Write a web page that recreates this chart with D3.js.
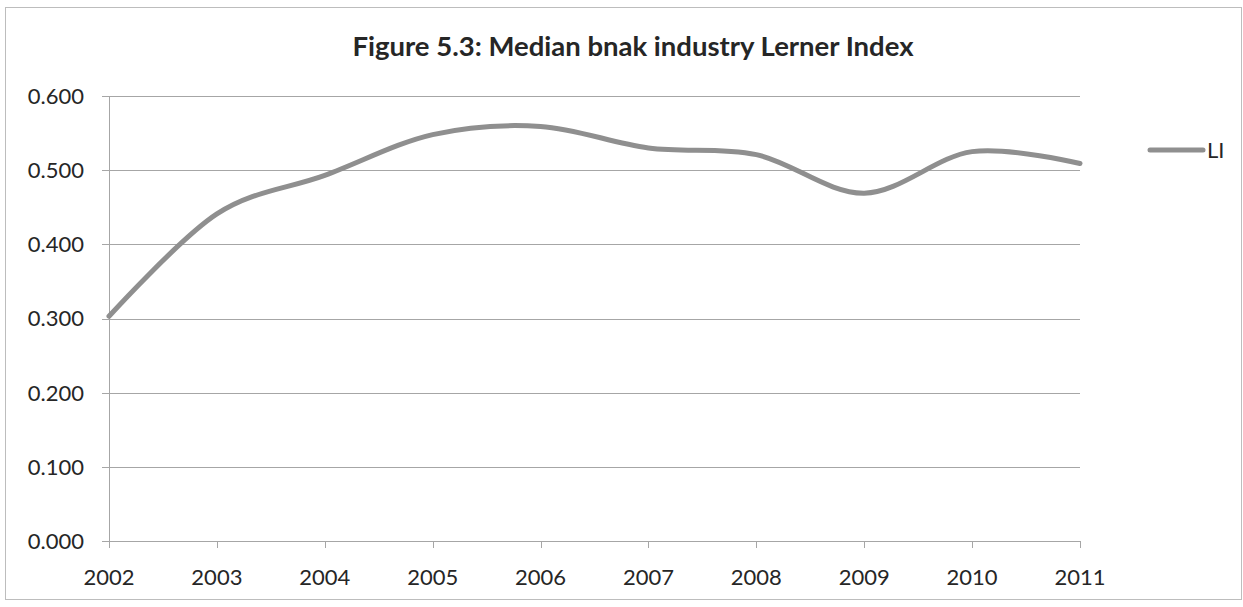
<!DOCTYPE html>
<html><head><meta charset="utf-8">
<script src="https://cdn.jsdelivr.net/npm/d3@7"></script>
<style>body{margin:0;background:#fff}svg{display:block}</style>
</head><body>
<script>
const years = ["2002","2003","2004","2005","2006","2007","2008","2009","2010","2011"];
const liValues = [0.303, 0.441, 0.493, 0.548, 0.559, 0.530, 0.521, 0.469, 0.525, 0.509];
const yTicks = [0, 0.1, 0.2, 0.3, 0.4, 0.5, 0.6];
const seriesName = "LI";
const title = "Figure 5.3: Median bnak industry Lerner Index";

const W = 1243, H = 607;
const svg = d3.select("body").append("svg").attr("width", W).attr("height", H);
const font = "Lato, 'Open Sans', sans-serif";

svg.append("rect").attr("x", 5.5).attr("y", 7.5).attr("width", 1236).attr("height", 592)
  .attr("fill", "#fff").attr("stroke", "#bdbdbd").attr("stroke-width", 1);

const x = d3.scalePoint().domain(years).range([109, 1080]);
const y = d3.scaleLinear().domain([0, 0.6]).range([541, 96]);

// gridlines
svg.append("g").selectAll("line").data(yTicks).join("line")
  .attr("x1", 102).attr("x2", 1080)
  .attr("y1", d => Math.round(y(d)) + 0.5).attr("y2", d => Math.round(y(d)) + 0.5)
  .attr("stroke", "#a6a6a6").attr("stroke-width", 1);

// y axis line
svg.append("line").attr("x1", 109.5).attr("x2", 109.5).attr("y1", y(0.6)).attr("y2", y(0))
  .attr("stroke", "#a6a6a6");

// y labels
svg.append("g").selectAll("text").data(yTicks).join("text")
  .attr("x", 84).attr("y", d => y(d)).attr("dy", "0.36em")
  .attr("text-anchor", "end").attr("font-family", font).attr("font-size", 22)
  .attr("fill", "#262626").text(d => d3.format(".3f")(d));

// x ticks
svg.append("g").selectAll("line").data(years).join("line")
  .attr("x1", d => Math.round(x(d)) + 0.5).attr("x2", d => Math.round(x(d)) + 0.5)
  .attr("y1", y(0)).attr("y2", y(0) + 7).attr("stroke", "#a6a6a6");

svg.append("g").selectAll("text").data(years).join("text")
  .attr("x", d => x(d)).attr("y", 585)
  .attr("text-anchor", "middle").attr("font-family", font).attr("font-size", 22)
  .attr("fill", "#262626").text(d => d);

// series line
const line = d3.line().x((d, i) => x(years[i])).y(d => y(d)).curve(d3.curveCardinal.tension(0));
svg.append("path").datum(liValues).attr("d", line)
  .attr("fill", "none").attr("stroke", "#8f8f8f").attr("stroke-width", 5).attr("stroke-linecap", "round");

// title
svg.append("text").attr("x", 633).attr("y", 56).attr("text-anchor", "middle")
  .attr("font-family", font).attr("font-weight", "bold").attr("font-size", 27.5)
  .attr("fill", "#262626").text(title);

// legend
svg.append("line").attr("x1", 1150).attr("x2", 1203).attr("y1", 150).attr("y2", 150)
  .attr("stroke", "#8f8f8f").attr("stroke-width", 5).attr("stroke-linecap", "round");
svg.append("text").attr("x", 1207).attr("y", 150).attr("dy", "0.36em")
  .attr("font-family", font).attr("font-size", 22).attr("fill", "#262626").text(seriesName);
</script>
</body></html>
